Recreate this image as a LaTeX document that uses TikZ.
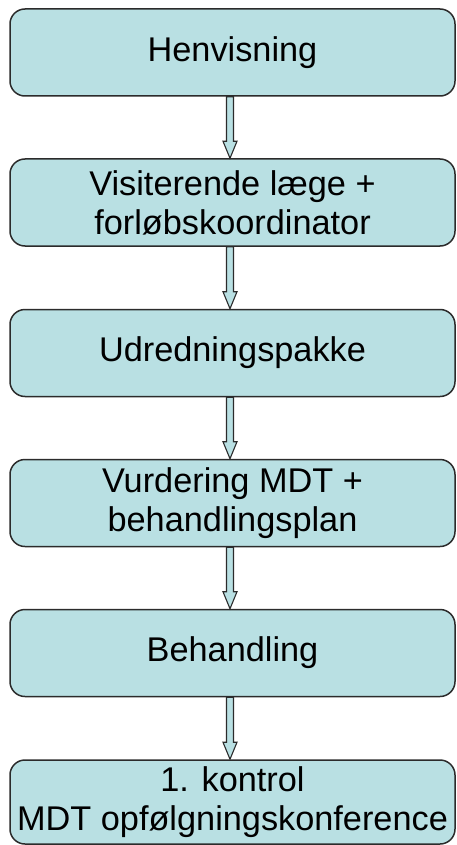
\documentclass[tikz,border=0pt]{standalone}
\usepackage{fontspec}
\setmainfont{Liberation Sans}
\usetikzlibrary{calc}
\definecolor{boxfill}{HTML}{B9E0E3}
\definecolor{boxline}{HTML}{2B2B2B}
\begin{document}
\begin{tikzpicture}[
  x=1pt,y=1pt,
  box/.style={draw=boxline, line width=1.5pt, fill=boxfill, rounded corners=15pt,
    minimum width=445pt, minimum height=87pt, inner sep=0pt, align=center,
    font=\fontsize{34.3}{39}\selectfont},
  flowarr/.style={draw=boxline, line width=1.1pt, fill=boxfill, line join=miter}
]
\useasboundingbox (0,0) rectangle (457,-845);
\node[box] (n1) at (232.5,-52.5) {Henvisning};
\node[box] (n2) at (232.5,-202.5) {Visiterende læge +\\forløbskoordinator};
\node[box] (n3) at (232.5,-353) {Udredningspakke};
\node[box] (n4) at (232.5,-503) {Vurdering MDT +\\behandlingsplan};
\node[box] (n5) at (232.5,-653) {Behandling};
\node[box, minimum height=84pt] (n6) at (232.5,-802) {1. kontrol\\MDT opfølgningskonference};
\foreach \a/\b in {n1/n2,n2/n3,n3/n4,n4/n5,n5/n6}{
  \draw[flowarr] let \p1=(\a.south), \p2=(\b.north) in
    (\x1-6pt,\y1) -- (\x1-6pt,\y2+17pt) -- (\x1-9.5pt,\y2+17pt) -- (\x2-2.5pt,\y2)
    -- (\x1+4.5pt,\y2+17pt) -- (\x1+1pt,\y2+17pt) -- (\x1+1pt,\y1) -- cycle;
}
\end{tikzpicture}
\end{document}
